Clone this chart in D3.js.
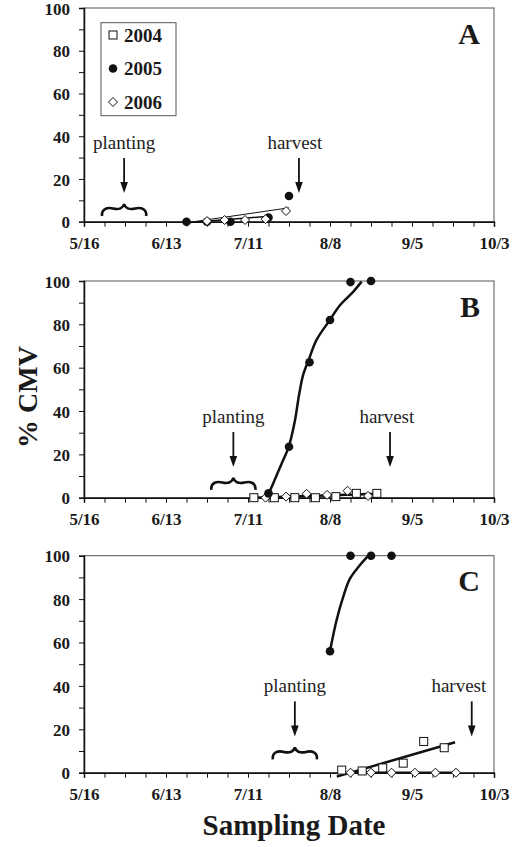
<!DOCTYPE html>
<html>
<head>
<meta charset="utf-8">
<script src="https://cdn.jsdelivr.net/npm/d3@7"></script>
<style>
  body { margin: 0; background: #fff; }
  svg { display: block; font-family: "Liberation Serif", "DejaVu Serif", serif; }
  .axis path, .axis line { stroke: #111; }
  .axis path { stroke-width: 1.5; }
  .axis text { font-size: 17px; font-weight: bold; fill: #1a1a1a; font-family: "Liberation Serif", serif; }
  .note { font-size: 19px; fill: #222; }
</style>
</head>
<body>
<div id="chart"></div>
<script>
// x axis: days after 5/16, weekly ticks, labels every 4 weeks
var xLabels = ["5/16", "6/13", "7/11", "8/8", "9/5", "10/3"];
var yLabels = [0, 20, 40, 60, 80, 100];

// panel A
var a2005Day = [35, 42, 50, 63, 70];
var a2005Val = [0, 0, 0, 2, 12];
var a2006Day = [42, 48, 55, 62, 69];
var a2006Val = [0.3, 0.8, 0.8, 1.2, 5];
var aLine2005 = [[35, -0.5], [63, 2.5]];
var aLine2006 = [[35, -0.5], [70, 6.5]];

// panel B
var b2004Day = [58, 65, 72, 79, 86, 93, 100];
var b2004Val = [0, 0, 0, 0, 0.5, 2, 2];
var b2005Day = [63, 70, 77, 84, 91, 98];
var b2005Val = [2, 23.5, 62.5, 82, 99.5, 100];
var b2006Day = [62, 69, 76, 83, 90, 97];
var b2006Val = [0, 0.5, 1.8, 1.3, 3.2, 0.8];
var bFit2005 = [[62.4, 0], [64.6, 6.6], [67.5, 15.8], [69.9, 23.5], [72, 35.4], [73.5, 48],
                [74.9, 57], [76.7, 63.5], [79.4, 72.8], [83.8, 81.7], [87.4, 88.8], [91.9, 95], [94.8, 99.7]];
var bLine2004 = [[58, 0], [100, 1.8]];
var bLine2006 = [[62, 0], [97, 1.5]];

// panel C
var c2004Day = [88, 95, 102, 109, 116, 123];
var c2004Val = [1.2, 0.8, 2.2, 4.4, 14.4, 11.5];
var c2005Day = [84, 91, 98, 105];
var c2005Val = [56, 100, 100, 100];
var c2006Day = [91, 98, 105, 113, 120, 127];
var c2006Val = [0, 0, 0, 0, 0, 0];
var cFit2005 = [[84, 56], [86.2, 70], [88.5, 81], [90.8, 89.4], [93.7, 94.8], [97.1, 100]];
var cLine2004 = [[86.3, -1.8], [126.7, 14]];
var cLine2006 = [[90, 0], [127, 0]];

var width = 532, height = 847;
var left = 84, right = 494;

var svg = d3.select("#chart").append("svg")
    .attr("width", width)
    .attr("height", height);

var x = d3.scaleLinear().domain([0, 140]).range([left, right]);

var panels = [
  { letter: "A", top: 8, bottom: 221.7, note: 34, plant: 13.7, harv: 73.4, harvText: 72,
    pts: [{ d: a2005Day, v: a2005Val, s: "circle" }, { d: a2006Day, v: a2006Val, s: "diamond" }],
    lines: [{ p: aLine2005, w: 1.5 }, { p: aLine2006, w: 1 }], fits: [] },
  { letter: "B", top: 281, bottom: 497.7, note: 34.5, plant: 51, harv: 104.5, harvText: 103.4,
    pts: [{ d: b2004Day, v: b2004Val, s: "square" }, { d: b2006Day, v: b2006Val, s: "diamond" },
          { d: b2005Day, v: b2005Val, s: "circle" }],
    lines: [{ p: bLine2006, w: 1 }, { p: bLine2004, w: 2.5 }], fits: [bFit2005] },
  { letter: "C", top: 555.7, bottom: 772.7, note: 37, plant: 72, harv: 132.4, harvText: 128,
    pts: [{ d: c2004Day, v: c2004Val, s: "square" }, { d: c2006Day, v: c2006Val, s: "diamond" },
          { d: c2005Day, v: c2005Val, s: "circle" }],
    lines: [{ p: cLine2006, w: 2.5 }, { p: cLine2004, w: 2.5 }], fits: [cFit2005] }
];

function symbol(g, shape, cx, cy) {
  if (shape === "circle") {
    g.append("circle").attr("cx", cx).attr("cy", cy).attr("r", 4.3).attr("fill", "#111");
  } else if (shape === "square") {
    g.append("rect").attr("x", cx - 4).attr("y", cy - 4).attr("width", 8).attr("height", 8)
      .attr("fill", "#fff").attr("stroke", "#111").attr("stroke-width", 1);
  } else {
    g.append("path").attr("d", "M" + cx + "," + (cy - 4.5) + "L" + (cx + 4.5) + "," + cy +
        "L" + cx + "," + (cy + 4.5) + "L" + (cx - 4.5) + "," + cy + "Z")
      .attr("fill", "#fff").attr("stroke", "#111").attr("stroke-width", 1);
  }
}

// curly brace, point up, centred on cx
function brace(g, cx, b0) {
  var h = function(dx, dy) { return (cx + dx) + "," + (b0 + dy); };
  g.append("path")
    .attr("d", "M" + h(-22, 12) +
      "C" + h(-23, 5) + " " + h(-17, 3) + " " + h(-11, 4.5) +
      "C" + h(-5, 6) + " " + h(-1, 4) + " " + h(0, 0) +
      "C" + h(1, 4) + " " + h(5, 6) + " " + h(11, 4.5) +
      "C" + h(17, 3) + " " + h(23, 5) + " " + h(22, 12))
    .attr("fill", "none").attr("stroke", "#111").attr("stroke-width", 2.6);
}

panels.forEach(function(p) {
  var y = d3.scaleLinear().domain([0, 100]).range([p.bottom, p.top]);
  var g = svg.append("g");

  // frame
  g.append("rect")
    .attr("x", left).attr("y", p.top)
    .attr("width", right - left).attr("height", p.bottom - p.top)
    .attr("fill", "none").attr("stroke", "#555").attr("stroke-width", 1);

  var xAxis = d3.axisBottom(x)
    .tickValues(d3.range(0, 141, 7))
    .tickSize(5).tickPadding(10)
    .tickFormat(function(d) { return d % 28 === 0 ? xLabels[d / 28] : ""; });
  g.append("g").attr("class", "axis")
    .attr("transform", "translate(0," + p.bottom + ")")
    .call(xAxis);

  var yAxis = d3.axisLeft(y)
    .tickValues(d3.range(0, 101, 10))
    .tickSize(5).tickPadding(9)
    .tickFormat(function(d) { return yLabels.indexOf(d) >= 0 ? d : ""; });
  g.append("g").attr("class", "axis")
    .attr("transform", "translate(" + left + ",0)")
    .call(yAxis)
    .selectAll("text").attr("dy", "0.36em");

  var line = d3.line().x(function(d) { return x(d[0]); }).y(function(d) { return y(d[1]); });
  var curve = d3.line().curve(d3.curveCatmullRom)
    .x(function(d) { return x(d[0]); }).y(function(d) { return y(d[1]); });

  p.lines.forEach(function(l) {
    g.append("path").attr("d", line(l.p)).attr("fill", "none")
      .attr("stroke", "#111").attr("stroke-width", l.w);
  });
  p.fits.forEach(function(f) {
    g.append("path").attr("d", curve(f)).attr("fill", "none")
      .attr("stroke", "#111").attr("stroke-width", 2.5);
  });

  p.pts.forEach(function(s) {
    s.d.forEach(function(d, i) { symbol(g, s.s, x(d), y(s.v[i])); });
  });

  // planting / harvest notes
  var base = y(p.note);
  g.append("text").attr("class", "note").attr("x", x(p.plant)).attr("y", base)
    .attr("text-anchor", "middle").text("planting");
  g.append("text").attr("class", "note").attr("x", x(p.harvText)).attr("y", base)
    .attr("text-anchor", "middle").text("harvest");
  [p.plant, p.harv].forEach(function(d) {
    var ax = x(d);
    g.append("line").attr("x1", ax).attr("x2", ax).attr("y1", base + 9).attr("y2", base + 35)
      .attr("stroke", "#111").attr("stroke-width", 1.8);
    g.append("path").attr("d", "M" + (ax - 3.8) + "," + (base + 33) + "L" + (ax + 3.8) + "," + (base + 33) +
        "L" + ax + "," + (base + 44) + "Z").attr("fill", "#111");
  });
  brace(g, x(p.plant), base + 55);

  g.append("text").attr("x", 480).attr("y", p.top + 35.5)
    .attr("text-anchor", "end").attr("font-size", 30).attr("font-weight", "bold")
    .attr("fill", "#1a1a1a").text(p.letter);
});

// legend in panel A
var legYears = ["2004", "2005", "2006"];
var legShapes = ["square", "circle", "diamond"];
var leg = svg.append("g");
leg.append("rect").attr("x", 101).attr("y", 22.7).attr("width", 75).attr("height", 93)
  .attr("fill", "#fff").attr("stroke", "#555").attr("stroke-width", 1);
legYears.forEach(function(t, i) {
  var ly = 35 + i * 33.5;
  symbol(leg, legShapes[i], 113, ly);
  leg.append("text").attr("x", 124).attr("y", ly + 6.5)
    .attr("font-size", 19).attr("font-weight", "bold").attr("fill", "#1a1a1a").text(t);
});

// axis titles
svg.append("text")
  .attr("transform", "translate(37,397) rotate(-90)")
  .attr("text-anchor", "middle").attr("font-size", 28).attr("font-weight", "bold")
  .attr("fill", "#1a1a1a").text("% CMV");
svg.append("text")
  .attr("x", 294).attr("y", 835)
  .attr("text-anchor", "middle").attr("font-size", 29).attr("font-weight", "bold")
  .attr("fill", "#1a1a1a").text("Sampling Date");
</script>
</body>
</html>
